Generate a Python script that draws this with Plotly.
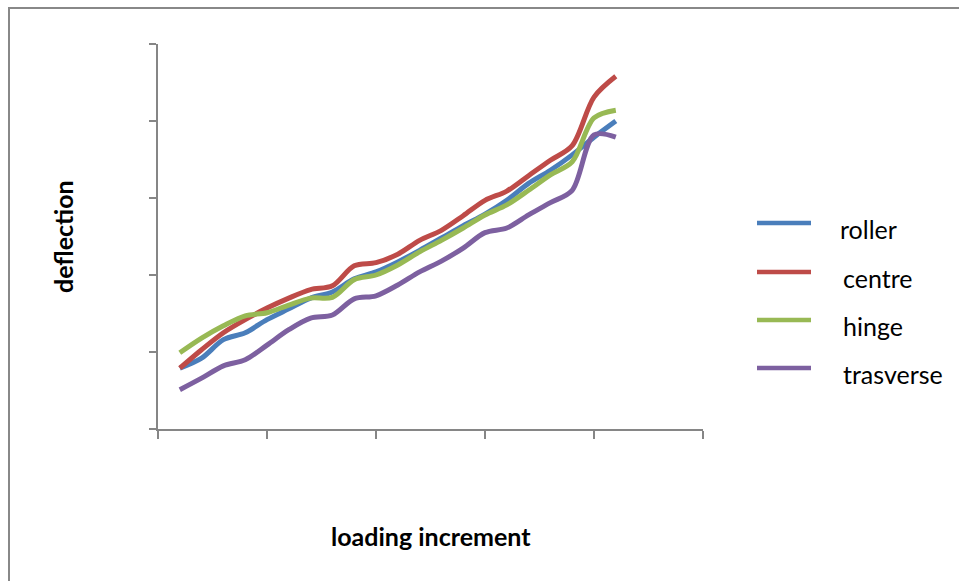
import plotly.graph_objects as go

# ---- data ----
increments = list(range(1, 22))
roller = [7.9, 9.2, 11.6, 12.5, 14.2, 15.6, 17.0, 17.8, 19.5, 20.4, 21.7, 23.2, 24.8,
          26.4, 27.9, 29.7, 31.9, 33.6, 35.6, 37.9, 40.0]
centre = [7.9, 10.3, 12.5, 14.2, 15.7, 17.0, 18.1, 18.6, 21.2, 21.6, 22.7, 24.5, 25.8,
          27.7, 29.7, 30.9, 32.9, 34.9, 36.8, 43.1, 45.8]
hinge = [9.9, 11.8, 13.4, 14.7, 15.1, 16.1, 17.0, 17.1, 19.4, 20.0, 21.3, 23.0, 24.5,
         26.1, 27.8, 29.1, 31.0, 33.0, 34.7, 40.4, 41.4]
trasverse = [5.1, 6.6, 8.2, 9.0, 10.9, 12.9, 14.4, 14.8, 16.9, 17.3, 18.7, 20.4, 21.8,
             23.5, 25.5, 26.1, 27.8, 29.4, 31.0, 38.2, 37.9]

series_names = ["roller", "centre", "hinge", "trasverse"]
series_values = [roller, centre, hinge, trasverse]
colors = ["#4A7EBB", "#BE4B48", "#98B954", "#7D60A0"]

# ---- layout geometry (pixels) ----
W, H = 959, 581
L, R, T, B = 158, 703, 44, 429
PW, PH = R - L, B - T


def xp(px):
    return (px - L) / PW


def yp(py):
    return (B - py) / PH


fig = go.Figure()
for name, vals, col in zip(series_names, series_values, colors):
    fig.add_trace(go.Scatter(
        x=increments, y=vals, mode="lines", name=name,
        line=dict(color=col, width=5, shape="spline", smoothing=0.9),
        showlegend=False,
    ))

axis_col = "#868686"
fig.update_layout(
    width=W, height=H,
    margin=dict(l=L, r=W - R, t=T, b=H - B),
    paper_bgcolor="white", plot_bgcolor="white",
    xaxis=dict(range=[0, 25], tickvals=[0, 5, 10, 15, 20, 25], showticklabels=False,
               ticks="outside", ticklen=8, tickcolor=axis_col, tickwidth=1.5,
               showline=True, linecolor=axis_col, linewidth=1.5, showgrid=False,
               zeroline=False, fixedrange=True),
    yaxis=dict(range=[0, 50], tickvals=[0, 10, 20, 30, 40, 50], showticklabels=False,
               ticks="outside", ticklen=7, tickcolor=axis_col, tickwidth=1.5,
               showline=True, linecolor=axis_col, linewidth=1.5, showgrid=False,
               zeroline=False, fixedrange=True),
    showlegend=False,
)

shapes = [dict(type="rect", xref="paper", yref="paper",
               x0=xp(9), x1=xp(1200), y0=yp(800), y1=yp(8),
               line=dict(color="#888888", width=2), fillcolor="rgba(0,0,0,0)",
               layer="below")]

FONT = "Lato"
annotations = [
    dict(text="<b>loading increment</b>", xref="paper", yref="paper",
         x=xp(431), y=yp(536), xanchor="center", yanchor="middle", showarrow=False,
         font=dict(family=FONT, size=25, color="black")),
    dict(text="<b>deflection</b>", xref="paper", yref="paper", textangle=-90,
         x=xp(63), y=yp(237), xanchor="center", yanchor="middle", showarrow=False,
         font=dict(family=FONT, size=25, color="black")),
]

legend_y = [223, 272, 320, 368]
legend_tx = [838, 841, 841, 841]
for name, col, ly, tx in zip(series_names, colors, legend_y, legend_tx):
    shapes.append(dict(type="line", xref="paper", yref="paper",
                       x0=xp(757), x1=xp(811), y0=yp(ly), y1=yp(ly),
                       line=dict(color=col, width=4.5)))
    annotations.append(dict(text=name, xref="paper", yref="paper",
                            x=xp(tx), y=yp(ly + 6), xanchor="left", yanchor="middle",
                            showarrow=False,
                            font=dict(family=FONT, size=25, color="black")))

fig.update_layout(shapes=shapes, annotations=annotations)
fig.write_html("out.html")
